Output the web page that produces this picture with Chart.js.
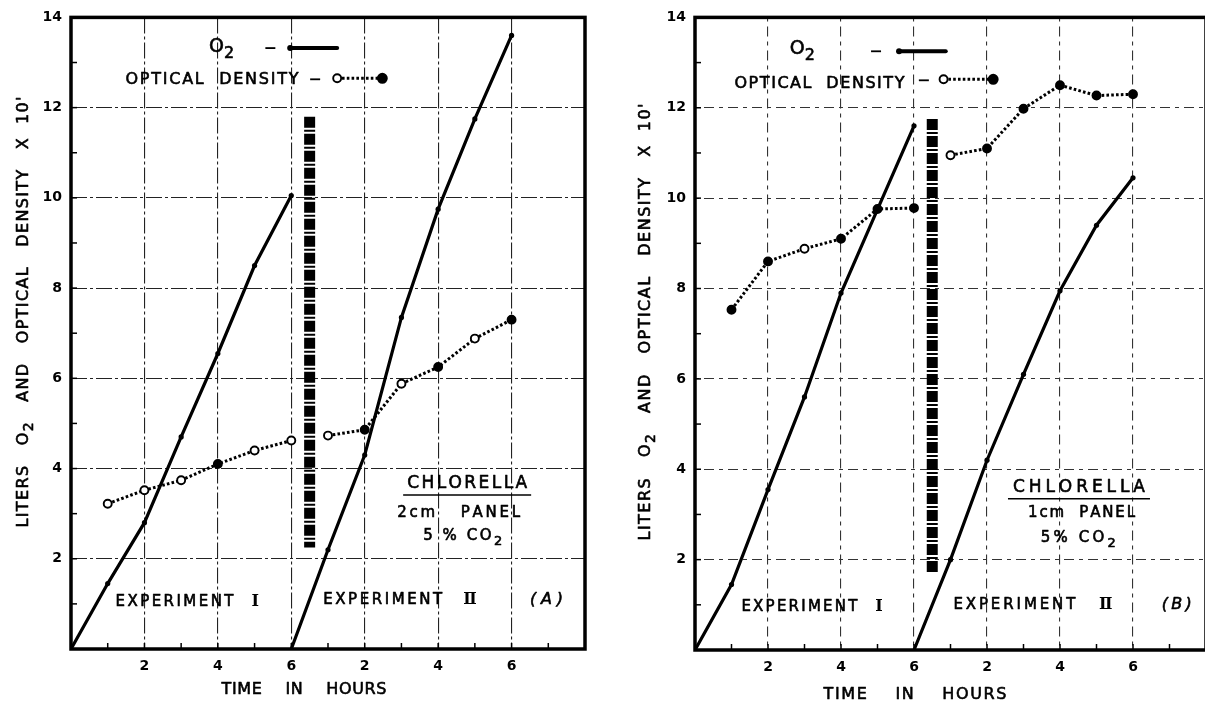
<!DOCTYPE html>
<html><head><meta charset="utf-8">
<script src="https://cdn.jsdelivr.net/npm/chart.js@4.4.0/dist/chart.umd.min.js"></script>
<style>
html,body{margin:0;padding:0;background:#fff;overflow:hidden;width:1205px;height:705px;}
#wa{position:absolute;left:0;top:0;width:600px;height:705px;}
#wb{position:absolute;left:600px;top:0;width:615px;height:705px;}
canvas{display:block;}
</style></head><body>
<div id="wa"><canvas id="ca" width="600" height="705"></canvas></div>
<div id="wb"><canvas id="cb" width="615" height="705"></canvas></div>
<script>
// ---------------- data ----------------
const hoursO2 = [0, 1, 2, 3, 4, 5, 6];      // hours within each experiment
const hoursOD = [1, 2, 3, 4, 5, 6];
const expIIStart = 6;                       // experiment II plotted after experiment I
const dividerHour = 6.5;

const xTickValues = [2, 4, 6, 8, 10, 12];
const xTickText   = ['2', '4', '6', '2', '4', '6'];
const yTickValues = [2, 4, 6, 8, 10, 12, 14];

// Panel A: 2 cm panel
const aO2I  = [0, 1.45, 2.8, 4.7, 6.55, 8.5, 10.05];
const aO2II = [0, 2.2, 4.3, 7.35, 9.75, 11.75, 13.6];
const aODI  = [3.22, 3.52, 3.74, 4.1, 4.4, 4.62];
const aODII = [4.73, 4.86, 5.88, 6.25, 6.88, 7.3];
const aDivider = [11.8, 2.25];

// Panel B: 1 cm panel
const bO2I  = [0, 1.45, 3.55, 5.6, 7.9, 9.75, 11.6];
const bO2II = [0, 2.0, 4.2, 6.1, 7.95, 9.4, 10.45];
const bODI  = [7.53, 8.6, 8.88, 9.1, 9.76, 9.78];
const bODII = [10.95, 11.1, 11.98, 12.5, 12.27, 12.3];
const bDivider = [11.75, 1.7];

// marker fill (style only)
const aODIFilled  = [false, false, false, true, false, false];
const aODIIFilled = [false, true, false, true, false, true];
const bODIFilled  = [true, true, false, true, true, true];
const bODIIFilled = [false, true, true, true, true, true];

// ---------------- helpers ----------------
const FAM = '"DejaVu Sans", "Liberation Sans", sans-serif';
const SERIF = '"DejaVu Serif", "Liberation Serif", serif';

function segs(str){
  const out=[]; const re=/\{([^}]*)\}/g; let last=0, m;
  while((m=re.exec(str))){ if(m.index>last) out.push({t:str.slice(last,m.index),sub:false}); out.push({t:m[1],sub:true}); last=re.lastIndex; }
  if(last<str.length) out.push({t:str.slice(last),sub:false});
  return out;
}
function drawText(ctx, str, cx, cy, o){
  o=o||{};
  const size=o.size||15, weight=o.weight||'normal', style=o.style||'normal', fam=o.fam||FAM;
  const mainF=`${style} ${weight} ${size}px ${fam}`;
  const subF=`${style} ${weight} ${Math.round(size*0.85)}px ${fam}`;
  const chars=[];
  for(const s of segs(str)) for(const ch of s.t) chars.push({ch, sub:s.sub});
  let natural=0;
  for(const c of chars){ ctx.font=c.sub?subF:mainF; c.w=ctx.measureText(c.ch).width; natural+=c.w; }
  let gap=0;
  if(o.width && chars.length>1) gap=(o.width-natural)/(chars.length-1);
  const total=natural+gap*(chars.length-1);
  ctx.save();
  ctx.translate(cx,cy);
  if(o.rotate) ctx.rotate(o.rotate);
  ctx.fillStyle='#000'; ctx.strokeStyle='#000'; ctx.textBaseline='middle'; ctx.textAlign='left';
  ctx.lineJoin='round';
  let x=-total/2;
  const sw = (o.stroke===undefined) ? 0.6 : o.stroke;
  for(const c of chars){
    ctx.font=c.sub?subF:mainF;
    const dy = c.sub ? size*0.36 : 0;
    ctx.fillText(c.ch, x, dy);
    if(sw){ ctx.lineWidth=sw; ctx.strokeText(c.ch, x, dy); }
    x+=c.w+gap;
  }
  if(o.underline){
    ctx.lineWidth=1.5; ctx.beginPath();
    ctx.moveTo(-total/2-o.underline.ext, o.underline.dy); ctx.lineTo(total/2+o.underline.ext, o.underline.dy); ctx.stroke();
  }
  ctx.restore();
}

function xy(xs, ys, off){ return ys.map((v,i)=>({x:xs[i]+(off||0), y:v})); }

function o2Set(data){
  return {data, borderColor:'#000', borderWidth:3.2, tension:0, borderCapStyle:'round',
    pointRadius:(c)=> c.dataIndex===0?0:2.6, pointBackgroundColor:'#000', pointBorderWidth:0, pointHoverRadius:0};
}
function odSet(data, filled){
  return {data, borderColor:'#000', borderWidth:3, borderDash:[2.6,2.2], tension:0, borderCapStyle:'butt',
    pointRadius:4, pointBorderWidth:1.9, pointBorderColor:'#000',
    pointBackgroundColor:(c)=> filled[c.dataIndex] ? '#000' : '#fff', pointHoverRadius:4};
}
function dividerSet(vals){
  return {data: vals.map(v=>({x:dividerHour, y:v})), borderColor:'#000', borderWidth:11,
    borderDash:[11,2,2,2], borderCapStyle:'butt', pointRadius:0};
}

function makePanel(canvas, P){
  const deco = {
    id:'deco',
    afterDraw(chart){
      const ctx=chart.ctx, a=chart.chartArea, xs=chart.scales.x, ys=chart.scales.y;
      const px=v=>xs.getPixelForValue(v), py=v=>ys.getPixelForValue(v);
      ctx.save();
      // minor inward ticks
      ctx.strokeStyle='#000'; ctx.lineWidth=1.5;
      for(let i=1;i<14;i++){
        ctx.beginPath(); ctx.moveTo(px(i), a.bottom); ctx.lineTo(px(i), a.bottom-6); ctx.stroke();
        ctx.beginPath(); ctx.moveTo(a.left, py(i)); ctx.lineTo(a.left+6, py(i)); ctx.stroke();
      }
      // frame
      ctx.lineWidth=3.5; ctx.strokeRect(a.left, a.top, a.right-a.left, a.bottom-a.top);
      // legend samples
      const L=P.legend;
      ctx.lineWidth=1.8; ctx.setLineDash([]);
      ctx.beginPath(); ctx.moveTo(px(L.o2Dash)-5, py(L.o2Y)); ctx.lineTo(px(L.o2Dash)+5, py(L.o2Y)); ctx.stroke();
      ctx.beginPath(); ctx.moveTo(px(L.odDash)-5, py(L.odY)+1); ctx.lineTo(px(L.odDash)+5, py(L.odY)+1); ctx.stroke();
      ctx.lineWidth=4; ctx.lineCap='round';
      ctx.beginPath(); ctx.moveTo(px(L.o2From), py(L.o2Y)); ctx.lineTo(px(L.o2To), py(L.o2Y)); ctx.stroke();
      ctx.beginPath(); ctx.arc(px(L.o2From), py(L.o2Y), 3, 0, 2*Math.PI); ctx.fillStyle='#000'; ctx.fill();
      ctx.lineCap='butt'; ctx.lineWidth=3; ctx.setLineDash([2.6,2.2]);
      ctx.beginPath(); ctx.moveTo(px(L.odFrom), py(L.odY)); ctx.lineTo(px(L.odTo), py(L.odY)); ctx.stroke();
      ctx.setLineDash([]); ctx.lineWidth=1.9;
      ctx.beginPath(); ctx.arc(px(L.odFrom), py(L.odY), 4, 0, 2*Math.PI); ctx.fillStyle='#fff'; ctx.fill(); ctx.stroke();
      ctx.beginPath(); ctx.arc(px(L.odTo), py(L.odY), 4.5, 0, 2*Math.PI); ctx.fillStyle='#000'; ctx.fill(); ctx.stroke();
      ctx.restore();
      // texts in data coordinates
      for(const t of P.texts){
        drawText(ctx, t.text, px(t.x), py(t.y), t);
      }
      // axis titles
      drawText(ctx, "LITERS   O{2}   AND   OPTICAL   DENSITY   X  10'", P.yTitle.x, P.yTitle.y,
        {size:16, width:P.yTitle.w, rotate:-Math.PI/2});
      drawText(ctx, "TIME    IN    HOURS", P.xTitle.x, P.xTitle.y, {size:16, width:P.xTitle.w});
    }
  };
  return new Chart(canvas, {
    type:'line',
    data:{datasets:[
      o2Set(xy(hoursO2, P.o2I)),
      o2Set(xy(hoursO2, P.o2II, expIIStart)),
      odSet(xy(hoursOD, P.odI), P.odIF),
      odSet(xy(hoursOD, P.odII, expIIStart), P.odIIF),
      dividerSet(P.divider)
    ]},
    options:{
      responsive:false, animation:false, events:[],
      layout:{padding:P.pad},
      plugins:{legend:{display:false}, tooltip:{enabled:false}},
      scales:{
        x:{type:'linear', min:0, max:14,
          afterFit:(s)=>{s.height=P.bottomH;},
          border:{display:false, dash:P.dash},
          grid:{drawTicks:false, lineWidth:1.1,
            color:(c)=> (c.tick && xTickValues.includes(c.tick.value)) ? P.gridColor : 'rgba(0,0,0,0)'},
          ticks:{stepSize:1, autoSkip:false, maxRotation:0, padding:9, color:'#000',
            font:{family:FAM, size:14, weight:'bold'},
            callback:(v)=>{const i=xTickValues.indexOf(v); return i>=0 ? xTickText[i] : '';}}
        },
        y:{type:'linear', min:0, max:14,
          afterFit:(s)=>{s.width=P.leftW;},
          border:{display:false, dash:P.dash},
          grid:{drawTicks:false, lineWidth:1.1,
            color:(c)=> (c.tick && yTickValues.includes(c.tick.value) && c.tick.value<14) ? P.gridColor : 'rgba(0,0,0,0)'},
          ticks:{stepSize:1, autoSkip:false, padding:9, color:'#000',
            font:{family:FAM, size:14, weight:'bold'},
            callback:(v)=> yTickValues.includes(v) ? String(v) : ''}
        }
      }
    },
    plugins:[deco]
  });
}

makePanel(document.getElementById('ca'), {
  o2I:aO2I, o2II:aO2II, odI:aODI, odII:aODII, odIF:aODIFilled, odIIF:aODIIFilled, divider:aDivider,
  pad:{top:14, right:15, left:0, bottom:0}, leftW:71, bottomH:56,
  dash:[16,3,3,3], gridColor:'#222',
  legend:{o2Y:13.32, o2Dash:5.43, o2From:5.97, o2To:7.25, odY:12.65, odDash:6.65, odFrom:7.25, odTo:8.48},
  texts:[
    {text:'O{2}', x:4.1, y:13.35, size:19},
    {text:'OPTICAL  DENSITY', x:3.84, y:12.61, width:173, size:16},
    {text:'CHLORELLA', x:10.79, y:3.66, width:120, size:17, underline:{dy:11, ext:4}},
    {text:'2cm   PANEL', x:10.56, y:3.02, width:123, size:15},
    {text:'5 % CO{2}', x:10.67, y:2.51, width:79, size:15},
    {text:'EXPERIMENT', x:2.82, y:1.04, width:118, size:15},
    {text:'Ⅰ', x:5.02, y:1.04, size:16, weight:'bold', fam:SERIF, stroke:0},
    {text:'EXPERIMENT', x:8.49, y:1.08, width:119, size:15},
    {text:'Ⅱ', x:10.87, y:1.08, size:16, weight:'bold', fam:SERIF, stroke:0},
    {text:'(A)', x:12.95, y:1.08, width:33, size:16, style:'italic'}
  ],
  yTitle:{x:24, y:312, w:431}, xTitle:{x:304, y:690, w:165}
});

makePanel(document.getElementById('cb'), {
  o2I:bO2I, o2II:bO2II, odI:bODI, odII:bODII, odIF:bODIFilled, odIIF:bODIIFilled, divider:bDivider,
  pad:{top:15, right:6, left:0, bottom:0}, leftW:95, bottomH:55,
  dash:[4,5,10,5], gridColor:'#333',
  legend:{o2Y:13.25, o2Dash:4.96, o2From:5.59, o2To:6.87, odY:12.63, odDash:6.27, odFrom:6.81, odTo:8.17},
  texts:[
    {text:'O{2}', x:2.94, y:13.3, size:19},
    {text:'OPTICAL  DENSITY', x:3.41, y:12.54, width:170, size:16},
    {text:'CHLORELLA', x:10.52, y:3.59, width:132, size:17, underline:{dy:11, ext:5}},
    {text:'1cm  PANEL', x:10.59, y:3.02, width:107, size:15},
    {text:'5% CO{2}', x:10.5, y:2.47, width:75, size:15},
    {text:'EXPERIMENT', x:2.86, y:0.95, width:116, size:15},
    {text:'Ⅰ', x:5.04, y:0.95, size:16, weight:'bold', fam:SERIF, stroke:0},
    {text:'EXPERIMENT', x:8.75, y:0.99, width:122, size:15},
    {text:'Ⅱ', x:11.25, y:0.99, size:16, weight:'bold', fam:SERIF, stroke:0},
    {text:'(B)', x:13.2, y:0.99, width:30, size:16, style:'italic'}
  ],
  yTitle:{x:46, y:322, w:437}, xTitle:{x:315, y:695, w:183}
});
</script>
</body></html>
